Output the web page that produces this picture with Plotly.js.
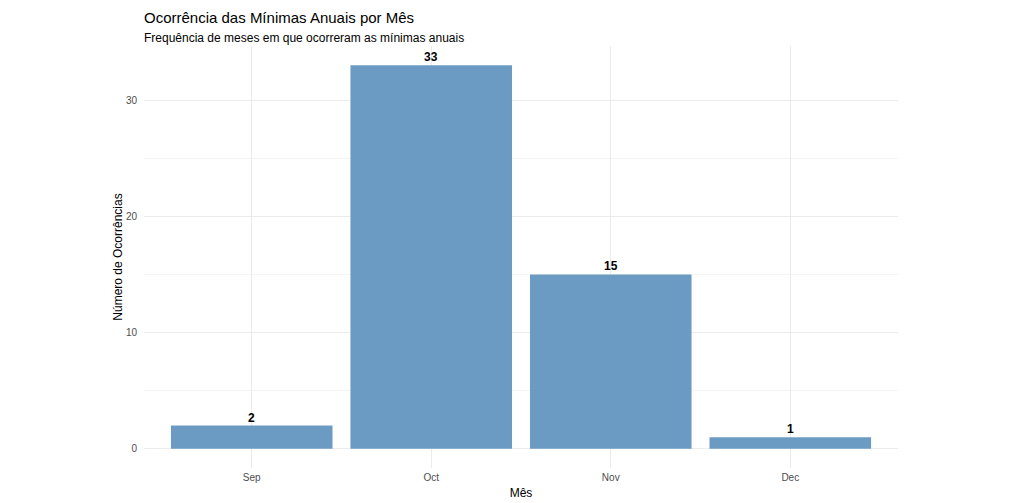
<!DOCTYPE html>
<html>
<head>
<meta charset="utf-8">
<script src="https://cdn.plot.ly/plotly-3.0.1.min.js"></script>
<style>html,body{margin:0;padding:0;background:#fff;}#chart{width:1024px;height:503px;}</style>
</head>
<body>
<div id="chart"></div>
<script>
const months = ["Sep", "Oct", "Nov", "Dec"];
const counts = [2, 33, 15, 1];
const yTicks = [0, 10, 20, 30];

const font = "Liberation Sans, Arial, Helvetica, sans-serif";

const trace = {
  type: "bar",
  x: months,
  y: counts,
  width: 0.9,
  marker: {color: "#6B9BC3", line: {width: 0}},
  hoverinfo: "x+y"
};

const labels = months.map((m, i) => ({
  x: m, y: counts[i], xref: "x", yref: "y",
  text: "<b>" + counts[i] + "</b>",
  showarrow: false, yanchor: "bottom", yshift: -1,
  font: {family: font, size: 12, color: "#000"}
}));

const layout = {
  width: 1024, height: 503,
  margin: {l: 144, r: 126, t: 46, b: 35},
  paper_bgcolor: "#fff", plot_bgcolor: "#fff",
  showlegend: false,
  font: {family: font},
  title: {
    text: "Ocorrência das Mínimas Anuais por Mês<br><span style='font-size:12px'>Frequência de meses em que ocorreram as mínimas anuais</span>",
    x: 0, xref: "paper", xanchor: "left",
    y: 0.955, yref: "container", yanchor: "top",
    font: {size: 15, color: "#000", family: font}
  },
  annotations: labels,
  xaxis: {
    type: "category",
    range: [-0.6, 3.6],
    showgrid: true, gridcolor: "#ebebeb", gridwidth: 1,
    zeroline: false, showline: false, ticks: "",
    tickfont: {size: 10, color: "#4d4d4d", family: font},
    ticklabelstandoff: 2,
    title: {text: "Mês", font: {size: 12, color: "#000", family: font}, standoff: 6},
    automargin: false
  },
  yaxis: {
    range: [-1.65, 34.65],
    tickvals: yTicks,
    ticktext: yTicks.map(String),
    showgrid: true, gridcolor: "#ebebeb", gridwidth: 1,
    minor: {dtick: 5, tick0: 0, showgrid: true, gridcolor: "#f5f5f5", gridwidth: 1, ticks: ""},
    zeroline: false, showline: false, ticks: "",
    tickfont: {size: 10, color: "#4d4d4d", family: font},
    ticklabelstandoff: 6,
    title: {text: "Número de Ocorrências", font: {size: 12, color: "#000", family: font}, standoff: 0},
    automargin: false
  },
  bargap: 0.1
};

Plotly.newPlot("chart", [trace], layout, {displayModeBar: false, staticPlot: true});
</script>
</body>
</html>
